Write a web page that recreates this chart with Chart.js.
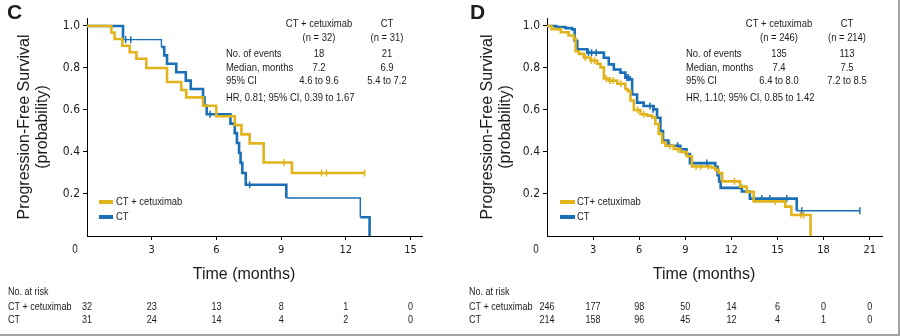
<!DOCTYPE html>
<html>
<head>
<meta charset="utf-8">
<script src="https://cdn.jsdelivr.net/npm/chart.js@4.4.1/dist/chart.umd.min.js"></script>
<style>
  html, body { margin: 0; padding: 0; background: #fff; }
  #wrap { position: relative; width: 900px; height: 336px; overflow: hidden; }
  #wrap canvas { position: absolute; top: 0; }
  #frame { position: absolute; left: 0; top: 0; width: 898px; height: 334px;
           border-right: 2px solid #a3a3a3; border-bottom: 2px solid #a3a3a3; pointer-events: none; }
</style>
</head>
<body>
<div id="wrap">
  <canvas id="chartC" width="450" height="336" style="left:0"></canvas>
  <canvas id="chartD" width="450" height="336" style="left:450px"></canvas>
  <div id="frame"></div>
</div>
<script>
// ---- panel C data ----
const cCetuxTime = [0, 1.13, 1.28, 1.64, 1.98, 2.29, 2.75, 3.71, 4.37, 4.60, 5.38, 5.99, 6.85, 7.16, 7.54, 8.19, 9.50, 12.87];
const cCetuxSurv = [1.0, 0.969, 0.938, 0.906, 0.875, 0.844, 0.80, 0.733, 0.695, 0.660, 0.620, 0.570, 0.528, 0.484, 0.441, 0.350, 0.300, 0.300];
const cCetuxCensorTime = [9.13, 10.87, 11.1, 12.87];
const cCetuxCensorSurv = [0.350, 0.300, 0.300, 0.300];

const cCtTime = [0, 1.67, 3.45, 3.58, 3.71, 4.14, 4.58, 4.81, 5.38, 5.45, 5.55, 6.65, 6.85, 6.95, 7.05, 7.12, 7.20, 7.36, 9.24, 12.67, 13.10];
const cCtSurv = [1.0, 0.935, 0.90, 0.86, 0.82, 0.78, 0.74, 0.70, 0.66, 0.62, 0.58, 0.535, 0.49, 0.443, 0.395, 0.348, 0.30, 0.244, 0.181, 0.089, 0];
const cCtCensorTime = [1.79, 2.03, 5.71, 7.54];
const cCtCensorSurv = [0.935, 0.935, 0.58, 0.244];

const cXTicks = [3, 6, 9, 12, 15];
const cRiskTimes = [0, 3, 6, 9, 12, 15];
const cRiskCetux = [32, 23, 13, 8, 1, 0];
const cRiskCt = [31, 24, 14, 4, 2, 0];
const cHeader = ["CT + cetuximab", "CT"];
const cN = ["(n = 32)", "(n = 31)"];
const cEvents = ["18", "21"];
const cMedian = ["7.2", "6.9"];
const cCI = ["4.6 to 9.6", "5.4 to 7.2"];
const cHR = "HR, 0.81; 95% CI, 0.39 to 1.67";

// ---- panel D data ----
const dCetuxTime = [0, 0.3, 0.9, 1.4, 1.75, 1.86, 2.08, 2.4, 2.83, 3.27, 3.48, 3.70, 4.02, 4.57, 5.10, 5.26, 5.43, 5.65, 6.08, 6.51, 6.84, 7.05, 7.27, 7.49, 7.71, 8.25, 8.68, 9.11, 9.43, 10.73, 10.95, 11.17, 11.4, 12.57, 13.0, 13.45, 15.5, 15.9, 17.15];
const dCetuxSurv = [1.0, 0.985, 0.97, 0.955, 0.94, 0.88, 0.867, 0.85, 0.835, 0.82, 0.803, 0.75, 0.74, 0.725, 0.70, 0.69, 0.645, 0.60, 0.58, 0.573, 0.565, 0.533, 0.486, 0.446, 0.43, 0.414, 0.40, 0.38, 0.331, 0.325, 0.315, 0.30, 0.26, 0.235, 0.21, 0.165, 0.14, 0.10, 0];
const dCetuxCensorTime = [2.5, 2.9, 3.1, 3.85, 4.1, 4.3, 4.8, 5.9, 6.3, 8.0, 8.5, 9.0, 9.7, 10.0, 10.5, 12.2, 14.85, 16.5, 16.7];
const dCetuxCensorSurv = [0.85, 0.835, 0.835, 0.75, 0.74, 0.74, 0.725, 0.60, 0.58, 0.43, 0.414, 0.40, 0.331, 0.331, 0.331, 0.26, 0.165, 0.10, 0.10];

const dCtTime = [0, 0.6, 1.2, 1.64, 1.8, 1.97, 2.62, 3.70, 4.02, 4.35, 4.78, 5.10, 5.39, 5.54, 5.86, 6.29, 6.94, 7.16, 7.38, 7.55, 7.9, 8.68, 9.08, 9.30, 10.95, 11.1, 11.2, 11.3, 12.68, 13.2, 16.25, 20.36];
const dCtSurv = [1.0, 0.995, 0.99, 0.984, 0.93, 0.889, 0.873, 0.849, 0.817, 0.793, 0.778, 0.754, 0.746, 0.674, 0.635, 0.619, 0.603, 0.563, 0.50, 0.455, 0.43, 0.413, 0.39, 0.347, 0.33, 0.29, 0.26, 0.229, 0.212, 0.178, 0.12, 0.12];
const dCtCensorTime = [2.7, 2.9, 3.2, 5.2, 5.3, 6.7, 6.9, 8.5, 10.4, 12.68, 13.98, 14.5, 15.6, 16.58, 20.36];
const dCtCensorSurv = [0.873, 0.873, 0.873, 0.754, 0.754, 0.619, 0.603, 0.43, 0.347, 0.229, 0.178, 0.178, 0.178, 0.12, 0.12];

const dXTicks = [3, 6, 9, 12, 15, 18, 21];
const dRiskTimes = [0, 3, 6, 9, 12, 15, 18, 21];
const dRiskCetux = [246, 177, 98, 50, 14, 6, 0, 0];
const dRiskCt = [214, 158, 96, 45, 12, 4, 1, 0];
const dHeader = ["CT + cetuximab", "CT"];
const dN = ["(n = 246)", "(n = 214)"];
const dEvents = ["135", "113"];
const dMedian = ["7.4", "7.5"];
const dCI = ["6.4 to 8.0", "7.2 to 8.5"];
const dHR = "HR, 1.10; 95% CI, 0.85 to 1.42";

const yTicks = [0.2, 0.4, 0.6, 0.8, 1.0];

const GOLD = "#E2B41C";
const BLUE = "#1B6FB6";
const INK = "#1c1c1c";
const SANS = "'Liberation Sans', Arial, sans-serif";
const NARROW = "'DejaVu Sans Condensed', 'Liberation Sans', sans-serif";

function toXY(xs, ys) {
  return xs.map((x, i) => ({ x: x, y: ys[i] }));
}

// arial squeezed sideways, stands in for the condensed face of the original
function narrowText(ctx, str, x, y, align) {
  ctx.save();
  ctx.translate(x, y);
  ctx.scale(0.82, 1);
  ctx.textAlign = align || "left";
  ctx.fillText(str, 0, 0);
  ctx.restore();
}

// draws the panel letter, axis titles, stats table, legend and risk table
const panelText = {
  id: "panelText",
  afterDraw(chart, args, o) {
    const ctx = chart.ctx;
    const xs = chart.scales.x;
    ctx.save();
    ctx.fillStyle = INK;
    ctx.textBaseline = "middle";

    ctx.font = "bold 21px " + SANS;
    ctx.textAlign = "left";
    ctx.fillText(o.letter, o.letterX, 13);

    ctx.font = "16px " + SANS;
    ctx.textAlign = "center";
    [["Progression-Free Survival", o.yTitleX[0]], ["(probability)", o.yTitleX[1]]].forEach(function (l) {
      ctx.save();
      ctx.translate(l[1], 127);
      ctx.rotate(-Math.PI / 2);
      ctx.fillText(l[0], 0, 0);
      ctx.restore();
    });
    ctx.fillText("Time (months)", o.xTitleX, 275);

    ctx.font = "12px " + SANS;
    narrowText(ctx, "0", o.zeroX, 250, "center");

    // stats table
    ctx.font = "11.5px " + SANS;
    const rows = [[null, o.header, 24], [null, o.n, 37.5], ["No. of events", o.events, 53.5],
                  ["Median, months", o.median, 67.5], ["95% CI", o.ci, 81]];
    rows.forEach(function (r) {
      if (r[0]) narrowText(ctx, r[0], o.tableX, r[2], "left");
      narrowText(ctx, r[1][0], o.col[0], r[2], "center");
      narrowText(ctx, r[1][1], o.col[1], r[2], "center");
    });
    narrowText(ctx, o.hr, o.tableX, 98, "left");

    // legend
    ctx.lineWidth = 4;
    [[GOLD, o.legend[0], 202], [BLUE, o.legend[1], 217]].forEach(function (l) {
      ctx.strokeStyle = l[0];
      ctx.beginPath();
      ctx.moveTo(o.legendX[0], l[2]);
      ctx.lineTo(o.legendX[1], l[2]);
      ctx.stroke();
      narrowText(ctx, l[1], o.legendX[2], l[2], "left");
    });

    // number at risk
    ctx.font = "11px " + SANS;
    narrowText(ctx, "No. at risk", o.riskX, 292, "left");
    narrowText(ctx, "CT + cetuximab", o.riskX, 307, "left");
    narrowText(ctx, "CT", o.riskX, 320, "left");
    o.riskTimes.forEach(function (t, i) {
      const px = xs.getPixelForValue(t);
      narrowText(ctx, String(o.riskCetux[i]), px, 307, "center");
      narrowText(ctx, String(o.riskCt[i]), px, 320, "center");
    });
    ctx.restore();
  }
};

function censorSet(t, s, color) {
  return {
    data: toXY(t, s), showLine: false, borderColor: color, backgroundColor: color,
    pointStyle: "line", pointRotation: 90, pointRadius: 3.5, pointBorderWidth: 1.5,
    pointBorderColor: color, pointHoverRadius: 0
  };
}

// thin: indices of the segments that the original draws with a hairline
function stepSet(t, s, color, thin) {
  return {
    data: toXY(t, s), stepped: true, borderColor: color, borderWidth: 2.6,
    pointRadius: 0, fill: false,
    segment: { borderWidth: c => (thin.indexOf(c.p0DataIndex) >= 0 ? 1.4 : 2.6) }
  };
}

function makeChart(id, p) {
  return new Chart(document.getElementById(id), {
    type: "line",
    data: {
      datasets: [
        stepSet(p.cetuxT, p.cetuxS, GOLD, []),
        stepSet(p.ctT, p.ctS, BLUE, p.ctThin),
        censorSet(p.cetuxCT, p.cetuxCS, GOLD),
        censorSet(p.ctCT, p.ctCS, BLUE)
      ]
    },
    plugins: [panelText],
    options: {
      responsive: false,
      animation: false,
      events: [],
      layout: { padding: { left: 0, right: p.padRight, top: 18, bottom: 0 } },
      plugins: {
        legend: { display: false },
        tooltip: { enabled: false },
        panelText: p.text
      },
      scales: {
        x: {
          type: "linear",
          min: 0,
          max: p.xMax,
          afterBuildTicks: function (s) { s.ticks = p.xTicks.map(v => ({ value: v })); },
          afterFit: function (s) { s.height = 100; },
          ticks: { autoSkip: false, maxRotation: 0, padding: 4, color: INK, font: { family: NARROW, size: 11 } },
          grid: { display: true, drawOnChartArea: false, drawTicks: true, tickLength: 4, color: "#000" },
          border: { display: true, color: "#000", width: 1 }
        },
        y: {
          min: 0,
          max: 1.038,
          afterBuildTicks: function (s) { s.ticks = yTicks.map(v => ({ value: v })); },
          afterFit: function (s) { s.width = p.yWidth; },
          ticks: { padding: 3, color: INK, font: { family: NARROW, size: 12 }, callback: v => v.toFixed(1) },
          grid: { display: true, drawOnChartArea: false, drawTicks: true, tickLength: 4, color: "#000" },
          border: { display: true, color: "#000", width: 1 }
        }
      }
    }
  });
}

makeChart("chartC", {
  cetuxT: cCetuxTime, cetuxS: cCetuxSurv, ctT: cCtTime, ctS: cCtSurv,
  cetuxCT: cCetuxCensorTime, cetuxCS: cCetuxCensorSurv, ctCT: cCtCensorTime, ctCS: cCtCensorSurv,
  ctThin: [1, 18],
  xMax: 15.53, xTicks: cXTicks, yWidth: 87, padRight: 28,
  text: {
    letter: "C", letterX: 7, yTitleX: [25, 43], xTitleX: 244, zeroX: 75,
    tableX: 226, col: [319, 387], header: cHeader, n: cN, events: cEvents, median: cMedian, ci: cCI, hr: cHR,
    legend: ["CT + cetuximab", "CT"], legendX: [99, 113, 116],
    riskX: 8, riskTimes: cRiskTimes, riskCetux: cRiskCetux, riskCt: cRiskCt
  }
});

makeChart("chartD", {
  cetuxT: dCetuxTime, cetuxS: dCetuxSurv, ctT: dCtTime, ctS: dCtSurv,
  cetuxCT: dCetuxCensorTime, cetuxCS: dCetuxCensorSurv, ctCT: dCtCensorTime, ctCS: dCtCensorSurv,
  ctThin: [30],
  xMax: 21.8, xTicks: dXTicks, yWidth: 97, padRight: 18,
  text: {
    letter: "D", letterX: 20, yTitleX: [38, 56], xTitleX: 254, zeroX: 86,
    tableX: 236, col: [329, 397], header: dHeader, n: dN, events: dEvents, median: dMedian, ci: dCI, hr: dHR,
    legend: ["CT+ cetuximab", "CT"], legendX: [110, 125, 127],
    riskX: 19, riskTimes: dRiskTimes, riskCetux: dRiskCetux, riskCt: dRiskCt
  }
});
</script>
</body>
</html>
